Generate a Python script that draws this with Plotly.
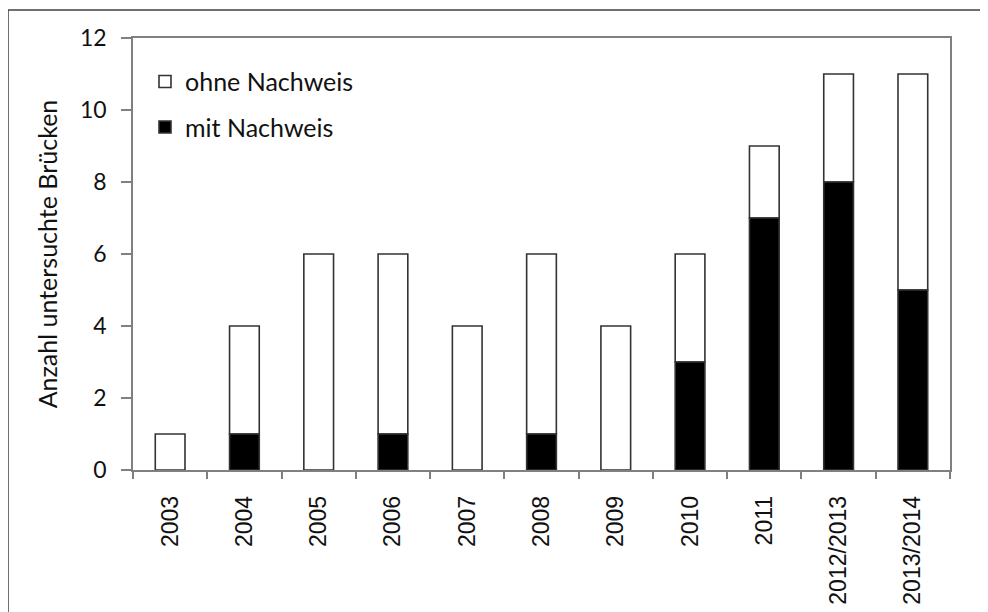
import plotly.graph_objects as go

categories = ["2003", "2004", "2005", "2006", "2007", "2008", "2009", "2010", "2011", "2012/2013", "2013/2014"]
mit_nachweis = [0, 1, 0, 1, 0, 1, 0, 3, 7, 8, 5]
ohne_nachweis = [1, 3, 6, 5, 4, 5, 4, 3, 2, 3, 6]
y_ticks = [0, 2, 4, 6, 8, 10, 12]

W, H = 988, 612
OFF = 8  # page body margin
L, R, T, B = 133 - OFF, 38 + OFF, 38 - OFF, 142 + OFF

fig = go.Figure()
fig.add_trace(go.Bar(
    x=categories, y=ohne_nachweis, name="ohne Nachweis", legendgroup="ohne",
    base=mit_nachweis,
    marker=dict(color="white", line=dict(color="#333333", width=1.6)),
))
fig.add_trace(go.Bar(
    x=categories, y=[v if v else None for v in mit_nachweis], name="mit Nachweis", legendgroup="mit",
    marker=dict(color="black", line=dict(color="#333333", width=1.6)),
))

pw = W - L - R
ph = H - T - B
fig.update_layout(
    width=W, height=H,
    margin=dict(l=L, r=R, t=T, b=B),
    barmode="overlay", bargap=0.6,
    plot_bgcolor="white", paper_bgcolor="white",
    showlegend=True,
    legend=dict(
        x=12 / pw, y=0.952, xanchor="left", yanchor="top",
        traceorder="grouped", tracegroupgap=10,
        font=dict(family="Lato", size=25, color="#111111"),
        bgcolor="rgba(0,0,0,0)",
    ),
    xaxis=dict(
        type="category", tickangle=-90,
        tickfont=dict(family="Liberation Sans", size=23, color="#111111"),
        showline=True, linecolor="#808080", linewidth=1.5, mirror=True,
        ticks="outside", ticklen=7, tickcolor="#808080", tickwidth=1.5,
        tickson="boundaries", ticklabelstandoff=15,
        showgrid=False,
    ),
    yaxis=dict(
        range=[0, 12], tickvals=y_ticks,
        tickfont=dict(family="Lato", size=23, color="#111111"),
        showline=True, linecolor="#808080", linewidth=1.5, mirror=True,
        ticks="outside", ticklen=10, tickcolor="#808080", tickwidth=1.5,
        ticklabelstandoff=10,
        showgrid=False, zeroline=False,
        title=dict(text="Anzahl untersuchte Brücken",
                   font=dict(family="Lato", size=25, color="#111111"), standoff=15),
    ),
    shapes=[
        dict(type="line", xref="paper", yref="paper",
             x0=(8 - 133) / pw, x1=(W - 133) / pw + 0.02, y0=(470 - 10) / ph, y1=(470 - 10) / ph,
             line=dict(color="#404040", width=1.5)),
        dict(type="line", xref="paper", yref="paper",
             x0=(8 - 133) / pw, x1=(8 - 133) / pw, y0=(470 - 10) / ph, y1=-B / ph - 0.02,
             line=dict(color="#404040", width=1.5)),
    ],
)

fig.write_html("out.html")
